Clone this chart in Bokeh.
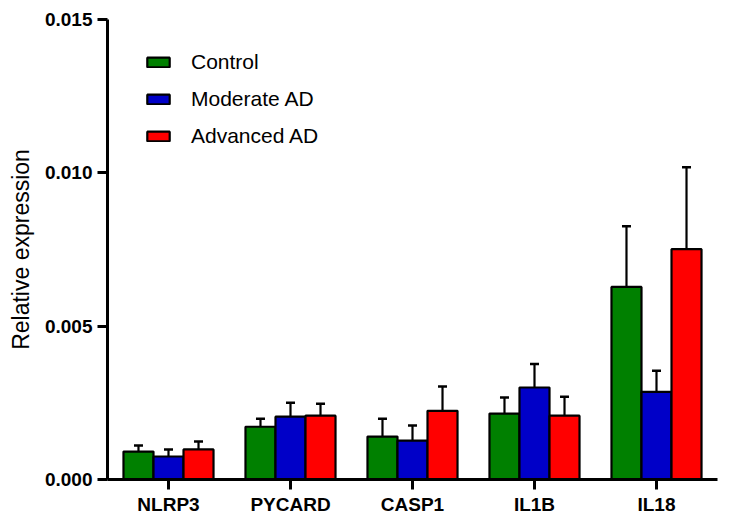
from bokeh.plotting import figure
from bokeh.models import (ColumnDataSource, FactorRange, Range1d, FixedTicker,
                          NumeralTickFormatter, Legend, LegendItem, Whisker, TeeHead)
from bokeh.transform import dodge
from bokeh.embed import file_html
from bokeh.resources import INLINE

genes = ["NLRP3", "PYCARD", "CASP1", "IL1B", "IL18"]
series_names = ["Control", "Moderate AD", "Advanced AD"]
control = [0.00091, 0.00172, 0.00140, 0.00215, 0.00628]
control_err = [0.00020, 0.00026, 0.00058, 0.00052, 0.00198]
moderate = [0.00075, 0.00205, 0.00127, 0.00300, 0.00286]
moderate_err = [0.00023, 0.00045, 0.00049, 0.00077, 0.00069]
advanced = [0.00098, 0.00208, 0.00224, 0.00208, 0.00751]
advanced_err = [0.00026, 0.00039, 0.00079, 0.00062, 0.00267]
y_ticks = [0.0, 0.005, 0.010, 0.015]

colors = ["#008000", "#0000C8", "#FF0000"]
offsets = [-0.246, 0.0, 0.246]
bar_w = 0.246

p = figure(x_range=FactorRange(*genes, range_padding=0), y_range=Range1d(0, 0.015),
           width=723, height=517, output_backend="svg", toolbar_location=None,
           min_border_left=107, min_border_right=6, min_border_top=19, min_border_bottom=37)
p.outline_line_color = None
p.xgrid.grid_line_color = None
p.ygrid.grid_line_color = None

items = []
for name, vals, errs, col, off in zip(series_names, [control, moderate, advanced],
                                      [control_err, moderate_err, advanced_err], colors, offsets):
    src = ColumnDataSource(dict(gene=genes, val=vals, up=[v + e for v, e in zip(vals, errs)]))
    w = Whisker(base=dodge("gene", off, range=p.x_range), lower="val", upper="up", source=src,
                line_color="black", line_width=2.2, lower_head=None,
                upper_head=TeeHead(size=9, line_width=2.5, line_color="black"))
    p.add_layout(w)
    r = p.vbar(x=dodge("gene", off, range=p.x_range), top="val", width=bar_w, source=src,
               fill_color=col, line_color="black", line_width=2.2)
    items.append(LegendItem(label=name, renderers=[r]))

legend = Legend(items=items, location=(37, 331), padding=0, margin=0,
                border_line_alpha=0, background_fill_alpha=0,
                glyph_width=28, glyph_height=12, label_standoff=19, spacing=13,
                label_text_font="Liberation Sans", label_text_font_size="21px",
                label_text_color="black")
p.add_layout(legend)

for ax in (p.xaxis[0], p.yaxis[0]):
    ax.axis_line_width = 3
    ax.axis_line_color = "black"
    ax.major_tick_line_width = 3
    ax.major_tick_line_color = "black"
    ax.major_tick_in = 0
    ax.major_tick_out = 10
    ax.minor_tick_line_color = None
    ax.major_label_text_font = "Liberation Sans"
    ax.major_label_text_font_style = "bold"
    ax.major_label_text_font_size = "19px"
    ax.major_label_text_color = "black"

p.xaxis.major_label_standoff = 4
p.yaxis.ticker = FixedTicker(ticks=y_ticks)
p.yaxis.formatter = NumeralTickFormatter(format="0.000")
p.yaxis.major_label_standoff = 5
p.yaxis.axis_label = "Relative expression"
p.yaxis.axis_label_text_font = "Liberation Sans"
p.yaxis.axis_label_text_font_style = "normal"
p.yaxis.axis_label_text_font_size = "23px"
p.yaxis.axis_label_text_color = "black"
p.yaxis.axis_label_standoff = 8

open("out.html", "w").write(file_html(p, INLINE))
